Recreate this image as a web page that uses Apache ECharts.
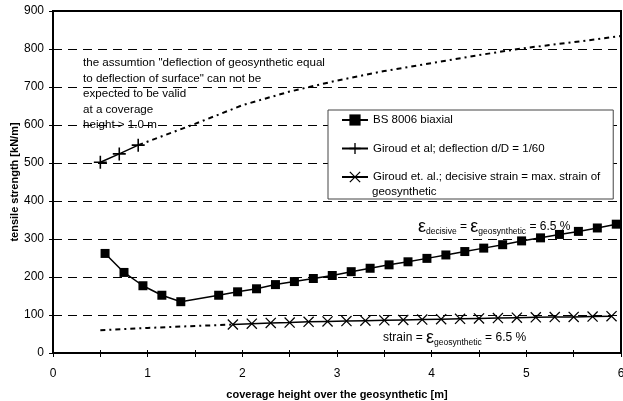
<!DOCTYPE html>
<html>
<head>
<meta charset="utf-8">
<script src="https://cdn.jsdelivr.net/npm/echarts@6/dist/echarts.min.js"></script>
<style>html,body{margin:0;padding:0;background:#fff}#c{width:623px;height:401px}</style>
</head>
<body>
<div id="c"></div>
<script>
// ---- data ----
const bsX = [0.55,0.75,0.95,1.15,1.35,1.75,1.95,2.15,2.35,2.55,2.75,2.95,3.15,3.35,3.55,3.75,3.95,4.15,4.35,4.55,4.75,4.95,5.15,5.35,5.55,5.75,5.95];
const bsY = [262,212,177,152,135,152,161,169,180,188,196,204,214,223,232,240,249,258,267,276,285,295,303,312,320,329,339];
const girX = [0.5,0.7,0.9];
const girY = [502,524,547];
const girExtX = [0.9,1.5,2.0,2.5,3.0,3.5,4.0,4.5,5.0,5.5,6.0];
const girExtY = [547,603,652,688,717,742,763,784,803,818,834];
const strainX = [1.9,2.1,2.3,2.5,2.7,2.9,3.1,3.3,3.5,3.7,3.9,4.1,4.3,4.5,4.7,4.9,5.1,5.3,5.5,5.7,5.9];
const strainY = [75,77,79,80,82,83,84,85,86,87,88,89,90,91,92,93,94,94.5,95,96,97];
const strainExtX = [0.5,1.0,1.5,1.9];
const strainExtY = [60,66,71,75];
const xTicks = [0,1,2,3,4,5,6];
const yTicks = [0,100,200,300,400,500,600,700,800,900];
const names = ['BS 8006 biaxial','Giroud et al; deflection d/D = 1/60','Giroud et. al.; decisive strain = max. strain of'];
const nameExtra = 'geosynthetic';

const FONT = 'Liberation Sans, Arial, sans-serif';
const zip = (a,b) => a.map((v,i)=>[v,b[i]]);
const PLUS = 'path://M4.4,0h1.2v10h-1.2zM0,4.4h10v1.2h-10z';
const CROSS = 'path://M0,0.8L0.8,0L10,9.2L9.2,10ZM9.2,0L10,0.8L0.8,10L0,9.2Z';

const chart = echarts.init(document.getElementById('c'));
const xBase = {type:'value', min:xTicks[0], max:xTicks[xTicks.length-1], interval:1};
const yBase = {type:'value', min:yTicks[0], max:yTicks[yTicks.length-1], interval:100};
chart.setOption({
  animation:false,
  backgroundColor:'#fff',
  textStyle:{fontFamily:FONT},
  grid:{left:53, top:11, right:2, bottom:48, show:true, borderColor:'#000', borderWidth:2,
        containLabel:false, outerBoundsMode:'none'},
  xAxis:[
    Object.assign({}, xBase, {
      position:'bottom',
      name:'coverage height over the geosynthetic [m]', nameLocation:'middle', nameGap:36, nameMoveOverlap:false,
      nameTextStyle:{fontFamily:FONT, fontSize:11, fontWeight:'bold', color:'#000'},
      axisLine:{lineStyle:{color:'#000', width:2}},
      axisTick:{show:true, length:4, lineStyle:{color:'#000', width:1}},
      minorTick:{show:true, splitNumber:2, length:4, lineStyle:{color:'#000', width:1}},
      axisLabel:{fontFamily:FONT, fontSize:12, color:'#000', margin:15},
      splitLine:{show:false}
    }),
    Object.assign({}, xBase, {
      position:'bottom',
      axisLine:{show:false},
      axisTick:{show:true, inside:true, length:3, lineStyle:{color:'#000', width:1}},
      minorTick:{show:true, splitNumber:2, length:3, lineStyle:{color:'#000', width:1}},
      axisLabel:{show:false}, splitLine:{show:false}
    })
  ],
  yAxis:[
    Object.assign({}, yBase, {
      position:'left',
      name:'tensile strength [kN/m]', nameLocation:'middle', nameGap:33, nameMoveOverlap:false,
      nameTextStyle:{fontFamily:FONT, fontSize:11, fontWeight:'bold', color:'#000'},
      axisLine:{show:true, lineStyle:{color:'#000', width:2}},
      axisTick:{show:true, length:4, lineStyle:{color:'#000', width:1}},
      axisLabel:{fontFamily:FONT, fontSize:12, color:'#000', margin:9},
      splitLine:{show:true, lineStyle:{color:'#000', width:1, type:[9,6]}}
    }),
    Object.assign({}, yBase, {
      position:'left',
      axisLine:{show:false},
      axisTick:{show:true, inside:true, length:3, lineStyle:{color:'#000', width:1}},
      axisLabel:{show:false}, splitLine:{show:false}
    })
  ],
  legend:{
    data:names,
    orient:'vertical', left:328, top:110,
    padding:[4,13,16,13], itemGap:16.5, itemWidth:26, itemHeight:14,
    backgroundColor:'#fff', borderColor:'#444', borderWidth:1, borderRadius:0,
    textStyle:{fontFamily:FONT, fontSize:11.5, color:'#000'},
    z:5
  },
  series:[
    {name:names[0], type:'line', data:zip(bsX,bsY), symbol:'rect', symbolSize:9,
     itemStyle:{color:'#000'}, lineStyle:{color:'#000', width:1.5}, z:4},
    {name:names[1], type:'line', data:zip(girX,girY), symbol:PLUS, symbolSize:13,
     itemStyle:{color:'#000'}, lineStyle:{color:'#000', width:1.5}, z:4},
    {name:names[2], type:'line', data:zip(strainX,strainY), symbol:CROSS, symbolSize:11,
     itemStyle:{color:'#000'}, lineStyle:{color:'#000', width:1.5}, z:4},
    {name:'girExt', type:'line', data:zip(girExtX,girExtY), symbol:'none',
     lineStyle:{color:'#000', width:2, type:[5,4,2,4]}, z:3},
    {name:'strainExt', type:'line', data:zip(strainExtX,strainExtY), symbol:'none',
     lineStyle:{color:'#000', width:2, type:[5,4,2,4]}, z:3}
  ]
});

// annotations placed through the axes' coordinate system
const px = (x,y) => chart.convertToPixel({gridIndex:0}, [x,y]);
const p1 = px(0.317, 783);
const p2 = px(3.855, 332);
const p3 = px(3.486, 40);
const rich = {
  e:{fontSize:18, fontFamily:FONT, fill:'#000', lineHeight:18, verticalAlign:'middle'},
  s:{fontSize:8.5, fontFamily:FONT, fill:'#000', lineHeight:8, verticalAlign:'bottom'},
  n:{fontSize:12, fontFamily:FONT, fill:'#000', lineHeight:12, verticalAlign:'middle'}
};
chart.setOption({
  graphic:[
    {type:'text', z:50, style:{x:p1[0], y:p1[1], text:'the assumtion "deflection of geosynthetic equal\nto deflection of surface" can not be\nexpected to be valid\nat a coverage\nheight > 1.0 m',
      fontSize:11.6, fontFamily:FONT, fill:'#000', lineHeight:15.4, verticalAlign:'top', align:'left'}},
    {type:'text', z:50, style:{x:p2[0], y:p2[1], text:'{e|ε}{s|decisive}{n| = }{e|ε}{s|geosynthetic}{n| = 6.5 %}',
      rich:rich, verticalAlign:'middle', align:'left'}},
    {type:'text', z:50, style:{x:p3[0], y:p3[1], text:'{n|strain = }{e|ε}{s|geosynthetic}{n| = 6.5 %}',
      rich:rich, verticalAlign:'middle', align:'left'}},
    {type:'text', z:50, style:{x:372, y:192, text:nameExtra, fontSize:11.5, fontFamily:FONT, fill:'#000', verticalAlign:'middle', align:'left'}}
  ]
});
</script>
</body>
</html>
